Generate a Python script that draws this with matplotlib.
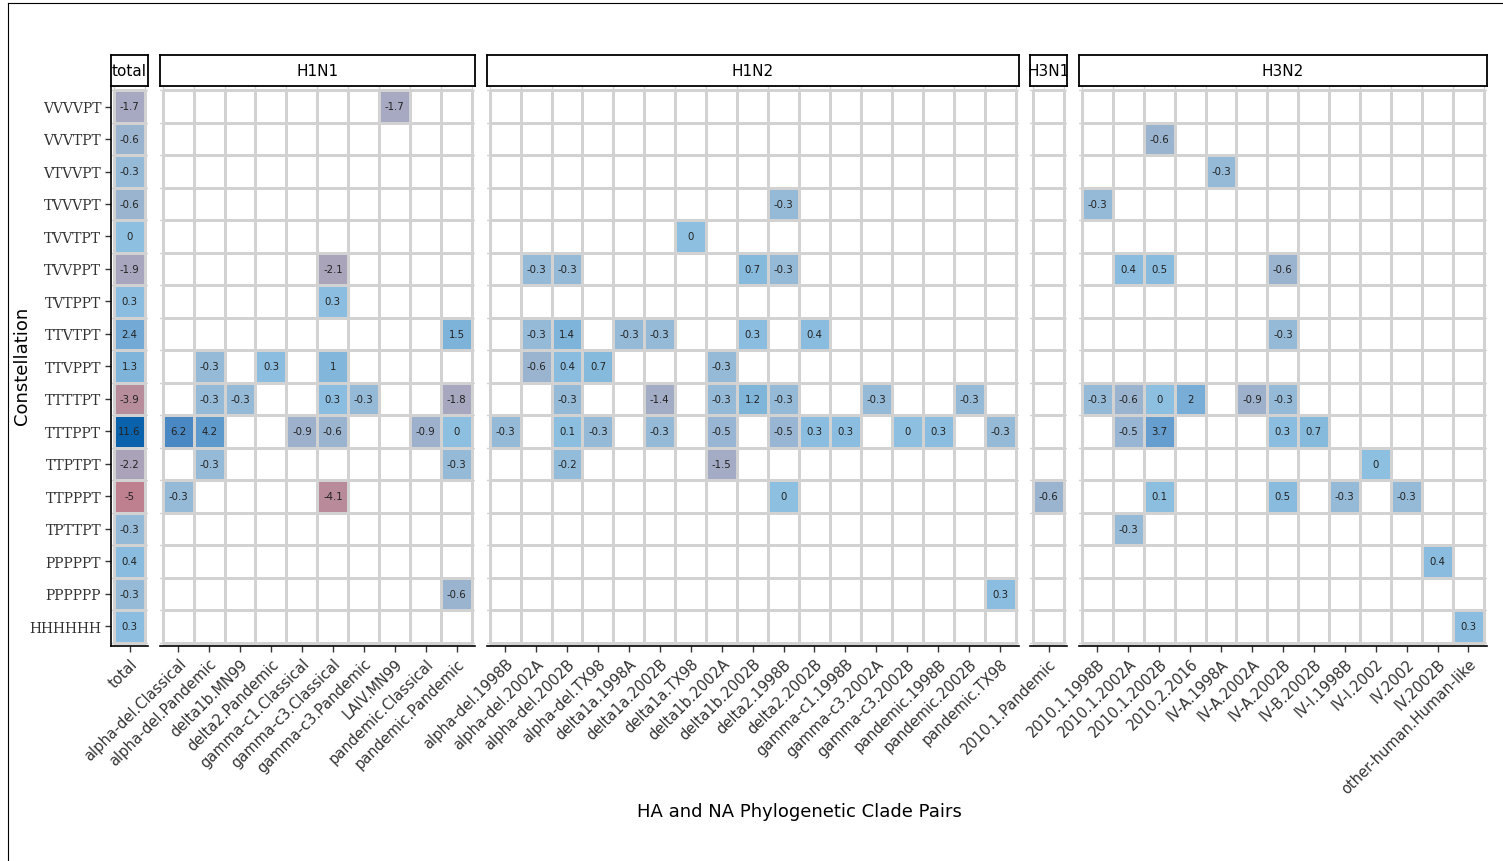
import numpy as np
import matplotlib
matplotlib.use('Agg')
import matplotlib.pyplot as plt
from matplotlib.colors import LinearSegmentedColormap, TwoSlopeNorm
from matplotlib.lines import Line2D

# rows, top to bottom
constellations = ["VVVVPT", "VVVTPT", "VTVVPT", "TVVVPT", "TVVTPT", "TVVPPT", "TVTPPT",
                  "TTVTPT", "TTVPPT", "TTTTPT", "TTTPPT", "TTPTPT", "TTPPPT", "TPTTPT",
                  "PPPPPT", "PPPPPP", "HHHHHH"]

total_vals = [-1.7, -0.6, -0.3, -0.6, 0, -1.9, 0.3, 2.4, 1.3, -3.9, 11.6, -2.2, -5, -0.3, 0.4, -0.3, 0.3]

h1n1_cols = ["alpha-del.Classical", "alpha-del.Pandemic", "delta1b.MN99", "delta2.Pandemic",
             "gamma-c1.Classical", "gamma-c3.Classical", "gamma-c3.Pandemic", "LAIV.MN99",
             "pandemic.Classical", "pandemic.Pandemic"]
h1n1_cells = [
    ("TTTPPT", "alpha-del.Classical", 6.2), ("TTPPPT", "alpha-del.Classical", -0.3),
    ("TTVPPT", "alpha-del.Pandemic", -0.3), ("TTTTPT", "alpha-del.Pandemic", -0.3),
    ("TTTPPT", "alpha-del.Pandemic", 4.2), ("TTPTPT", "alpha-del.Pandemic", -0.3),
    ("TTTTPT", "delta1b.MN99", -0.3),
    ("TTVPPT", "delta2.Pandemic", 0.3),
    ("TTTPPT", "gamma-c1.Classical", -0.9),
    ("TVVPPT", "gamma-c3.Classical", -2.1), ("TVTPPT", "gamma-c3.Classical", 0.3),
    ("TTVPPT", "gamma-c3.Classical", 1), ("TTTTPT", "gamma-c3.Classical", 0.3),
    ("TTTPPT", "gamma-c3.Classical", -0.6), ("TTPPPT", "gamma-c3.Classical", -4.1),
    ("TTTTPT", "gamma-c3.Pandemic", -0.3),
    ("VVVVPT", "LAIV.MN99", -1.7),
    ("TTTPPT", "pandemic.Classical", -0.9),
    ("TTVTPT", "pandemic.Pandemic", 1.5), ("TTTTPT", "pandemic.Pandemic", -1.8),
    ("TTTPPT", "pandemic.Pandemic", 0), ("TTPTPT", "pandemic.Pandemic", -0.3),
    ("PPPPPP", "pandemic.Pandemic", -0.6),
]

h1n2_cols = ["alpha-del.1998B", "alpha-del.2002A", "alpha-del.2002B", "alpha-del.TX98",
             "delta1a.1998A", "delta1a.2002B", "delta1a.TX98", "delta1b.2002A", "delta1b.2002B",
             "delta2.1998B", "delta2.2002B", "gamma-c1.1998B", "gamma-c3.2002A", "gamma-c3.2002B",
             "pandemic.1998B", "pandemic.2002B", "pandemic.TX98"]
h1n2_cells = [
    ("TVVVPT", "delta2.1998B", -0.3),
    ("TVVTPT", "delta1a.TX98", 0),
    ("TVVPPT", "alpha-del.2002A", -0.3), ("TVVPPT", "alpha-del.2002B", -0.3),
    ("TVVPPT", "delta1b.2002B", 0.7), ("TVVPPT", "delta2.1998B", -0.3),
    ("TTVTPT", "alpha-del.2002A", -0.3), ("TTVTPT", "alpha-del.2002B", 1.4),
    ("TTVTPT", "delta1a.1998A", -0.3), ("TTVTPT", "delta1a.2002B", -0.3),
    ("TTVTPT", "delta1b.2002B", 0.3), ("TTVTPT", "delta2.2002B", 0.4),
    ("TTVPPT", "alpha-del.2002A", -0.6), ("TTVPPT", "alpha-del.2002B", 0.4),
    ("TTVPPT", "alpha-del.TX98", 0.7), ("TTVPPT", "delta1b.2002A", -0.3),
    ("TTTTPT", "alpha-del.2002B", -0.3), ("TTTTPT", "delta1a.2002B", -1.4),
    ("TTTTPT", "delta1b.2002A", -0.3), ("TTTTPT", "delta1b.2002B", 1.2),
    ("TTTTPT", "delta2.1998B", -0.3), ("TTTTPT", "gamma-c3.2002A", -0.3),
    ("TTTTPT", "pandemic.2002B", -0.3),
    ("TTTPPT", "alpha-del.1998B", -0.3), ("TTTPPT", "alpha-del.2002B", 0.1),
    ("TTTPPT", "alpha-del.TX98", -0.3), ("TTTPPT", "delta1a.2002B", -0.3),
    ("TTTPPT", "delta1b.2002A", -0.5), ("TTTPPT", "delta2.1998B", -0.5),
    ("TTTPPT", "delta2.2002B", 0.3), ("TTTPPT", "gamma-c1.1998B", 0.3),
    ("TTTPPT", "gamma-c3.2002B", 0), ("TTTPPT", "pandemic.1998B", 0.3),
    ("TTTPPT", "pandemic.TX98", -0.3),
    ("TTPTPT", "alpha-del.2002B", -0.2), ("TTPTPT", "delta1b.2002A", -1.5),
    ("TTPPPT", "delta2.1998B", 0),
    ("PPPPPP", "pandemic.TX98", 0.3),
]

h3n1_cols = ["2010.1.Pandemic"]
h3n1_cells = [("TTPPPT", "2010.1.Pandemic", -0.6)]

h3n2_cols = ["2010.1.1998B", "2010.1.2002A", "2010.1.2002B", "2010.2.2016", "IV-A.1998A",
             "IV-A.2002A", "IV-A.2002B", "IV-B.2002B", "IV-I.1998B", "IV-I.2002", "IV.2002",
             "IV.2002B", "other-human.Human-like"]
h3n2_cells = [
    ("VVVTPT", "2010.1.2002B", -0.6),
    ("VTVVPT", "IV-A.1998A", -0.3),
    ("TVVVPT", "2010.1.1998B", -0.3),
    ("TVVPPT", "2010.1.2002A", 0.4), ("TVVPPT", "2010.1.2002B", 0.5), ("TVVPPT", "IV-A.2002B", -0.6),
    ("TTVTPT", "IV-A.2002B", -0.3),
    ("TTTTPT", "2010.1.1998B", -0.3), ("TTTTPT", "2010.1.2002A", -0.6),
    ("TTTTPT", "2010.1.2002B", 0), ("TTTTPT", "2010.2.2016", 2),
    ("TTTTPT", "IV-A.2002A", -0.9), ("TTTTPT", "IV-A.2002B", -0.3),
    ("TTTPPT", "2010.1.2002A", -0.5), ("TTTPPT", "2010.1.2002B", 3.7),
    ("TTTPPT", "IV-A.2002B", 0.3), ("TTTPPT", "IV-B.2002B", 0.7),
    ("TTPTPT", "IV-I.2002", 0),
    ("TTPPPT", "2010.1.2002B", 0.1), ("TTPPPT", "IV-A.2002B", 0.5),
    ("TTPPPT", "IV-I.1998B", -0.3), ("TTPPPT", "IV.2002", -0.3),
    ("TPTTPT", "2010.1.2002A", -0.3),
    ("PPPPPT", "IV.2002B", 0.4),
    ("HHHHHH", "other-human.Human-like", 0.3),
]

total_cells = [(c, "total", v) for c, v in zip(constellations, total_vals)]

panels = [("total", ["total"], total_cells),
          ("H1N1", h1n1_cols, h1n1_cells),
          ("H1N2", h1n2_cols, h1n2_cells),
          ("H3N1", h3n1_cols, h3n1_cells),
          ("H3N2", h3n2_cols, h3n2_cells)]

# colours: reddish (neg) -> sky blue (0) -> dark blue (pos)
cmap = LinearSegmentedColormap.from_list("clade", [
    (0.0, "#BE7F8F"), (0.11, "#B78D9C"), (0.33, "#A6A9C1"), (0.44, "#9AB4D0"),
    (0.5, "#8EC0E0"), (0.603, "#73AAD5"), (0.767, "#4A88C4"), (1.0, "#0B62AC")])
norm = TwoSlopeNorm(vmin=-5, vcenter=0, vmax=11.6)

W, H = 1503, 862
fig = plt.figure(figsize=(W / 100, H / 100), dpi=100)
fx = lambda p: p / W

unit = 30.93
gap = 11.5
top, bot = 88, 647
nrow = len(constellations)
left = 111.0
gridc = "#D2D2D2"

for name, cols, cells in panels:
    ncol = len(cols)
    width = (ncol + 0.2) * unit
    ax = fig.add_axes([fx(left), 1 - bot / H, fx(width), (bot - top) / H])
    mat = np.full((nrow, ncol), np.nan)
    for c, col, v in cells:
        mat[constellations.index(c), cols.index(col)] = v
    ax.pcolormesh(np.arange(ncol + 1) - 0.5, np.arange(nrow + 1) - 0.5,
                  np.ma.masked_invalid(mat), cmap=cmap, norm=norm,
                  edgecolors=gridc, linewidth=1.0, zorder=1)
    for i in range(nrow):
        for j in range(ncol):
            if not np.isnan(mat[i, j]):
                ax.text(j, i, f"{mat[i, j]:g}", ha="center", va="center",
                        fontsize=7.3, color="#222222", zorder=3)
    ax.set_xlim(-0.6, ncol - 0.4)
    ax.set_ylim(nrow - 0.4, -0.6)
    ax.set_xticks(np.arange(ncol + 1) - 0.5, minor=True)
    ax.set_yticks(np.arange(nrow + 1) - 0.5, minor=True)
    ax.grid(which="minor", color=gridc, lw=1.0, zorder=0)
    ax.set_axisbelow(True)
    ax.tick_params(which="minor", length=0)
    ax.set_xticks(range(ncol))
    ax.set_xticklabels(cols, rotation=45, ha="right", va="top", rotation_mode="anchor",
                       fontsize=10.5, color="#333333")
    ax.tick_params(axis="x", length=4, width=1, color="#333333", pad=3)
    for s in ["top", "right", "left"]:
        ax.spines[s].set_visible(False)
    ax.spines["bottom"].set_linewidth(1.2)
    if name == "total":
        ax.set_yticks(range(nrow))
        ax.set_yticklabels(constellations, fontfamily="DejaVu Serif", fontsize=10, color="#333333")
        ax.tick_params(axis="y", length=4, width=1, color="#333333", pad=3)
        ax.spines["left"].set_visible(True)
        ax.spines["left"].set_linewidth(1.2)
    else:
        ax.set_yticks([])

    # facet strip
    sx = fig.add_axes([fx(left), 1 - 87 / H, fx(width), 31 / H])
    sx.set_xticks([])
    sx.set_yticks([])
    for s in sx.spines.values():
        s.set_linewidth(1.3)
    sx.text(0.5, 0.5, name, ha="center", va="center", fontsize=11,
            transform=sx.transAxes, clip_on=True)

    left += width + gap

fig.text(fx(22), 1 - 366 / H, "Constellation", rotation=90, ha="center", va="center", fontsize=13)
fig.text(fx(799), 1 - 812 / H, "HA and NA Phylogenetic Clade Pairs", ha="center", va="center", fontsize=13)

# outer frame of the original screenshot
fig.add_artist(Line2D([fx(8), fx(8)], [0, 1 - 4 / H], color="black", lw=0.8, transform=fig.transFigure))
fig.add_artist(Line2D([fx(8), 1], [1 - 4 / H, 1 - 4 / H], color="black", lw=0.8, transform=fig.transFigure))

fig.savefig("out.png", dpi=100)
